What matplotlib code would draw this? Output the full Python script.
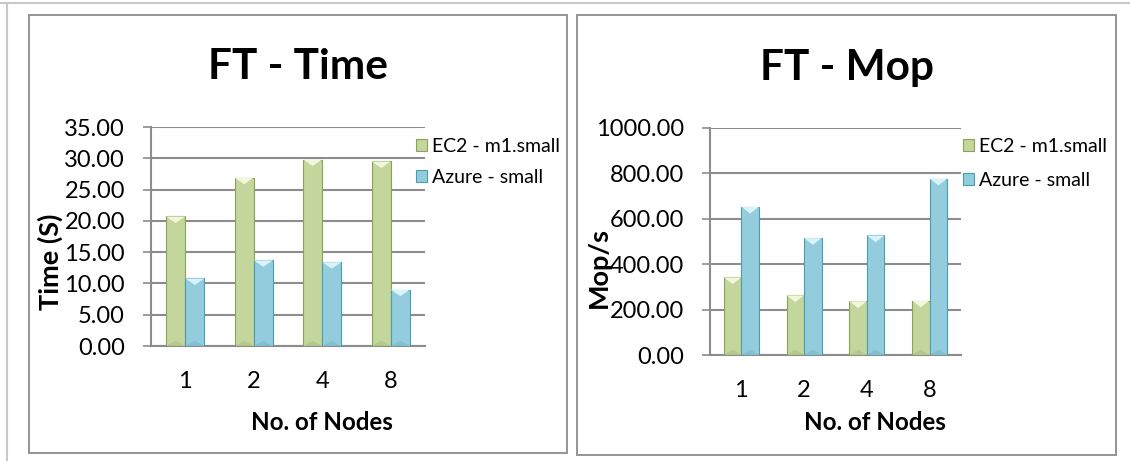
import matplotlib.pyplot as plt
from matplotlib.patches import Polygon, Rectangle, Patch
from matplotlib.lines import Line2D

plt.rcParams['font.family'] = ['Lato', 'DejaVu Sans']

nodes = ["1", "2", "4", "8"]
series = ["EC2 - m1.small", "Azure - small"]
time_ec2 = [20.7, 26.9, 29.8, 29.5]
time_azure = [10.8, 13.7, 13.4, 9.0]
mop_ec2 = [342, 263, 237, 240]
mop_azure = [653, 515, 527, 777]

FILL = ["#c3d69b", "#93cddd"]
TOP = ["#f1f7dc", "#daf2f9"]
EDGE = ["#8aa355", "#4b9bb1"]
GRID = "#8c8c8c"
W = 0.28


def draw_panel(ax, vals, ymax, step, fmt):
    x = range(len(nodes))
    h = ymax * 0.03
    for k, v in enumerate(vals):
        off = (k - 0.5) * W
        bars = ax.bar([i + off for i in x], v, W, color=FILL[k],
                      edgecolor=EDGE[k], lw=0.8, zorder=3)
        for b in bars:
            x0, x1, top = b.get_x(), b.get_x() + b.get_width(), b.get_height()
            ax.add_patch(Polygon([(x0, top), (x1, top), ((x0 + x1) / 2, top - h)],
                                 closed=True, fc=TOP[k], ec="none", zorder=4))
            ax.add_patch(Polygon([(x0, 0), (x1, 0), ((x0 + x1) / 2, h * 0.8)],
                                 closed=True, fc=EDGE[k], ec="none", alpha=0.25,
                                 zorder=4))
    ax.set_xlim(-0.5, len(nodes) - 0.5)
    ax.set_ylim(0, ymax)
    ticks = [i * step for i in range(int(round(ymax / step)) + 1)]
    ax.set_yticks(ticks)
    ax.set_yticklabels([fmt.format(t) for t in ticks], fontsize=17)
    ax.set_xticks(list(x))
    ax.set_xticklabels(nodes, fontsize=17)
    ax.yaxis.grid(True, color=GRID, lw=1.5, zorder=0)
    ax.set_axisbelow(True)
    ax.tick_params(axis="y", length=5.8, width=1.2, color=GRID, pad=13)
    ax.tick_params(axis="x", length=0, pad=18)
    for s in ("top", "right"):
        ax.spines[s].set_visible(False)
    for s in ("left", "bottom"):
        ax.spines[s].set_color(GRID)
        ax.spines[s].set_linewidth(1.5)
    ax.set_facecolor("none")


fig = plt.figure(figsize=(11.30, 4.61), dpi=100)
fig.patch.set_facecolor("white")

# page edge and panel frames
fig.add_artist(Line2D([0, 1], [1 - 3 / 461] * 2, color="#c8c8c8", lw=1.5))
fig.add_artist(Line2D([7 / 1130] * 2, [0, 1 - 3 / 461], color="#c8c8c8", lw=1.5))
fig.add_artist(Rectangle((29 / 1130, 8 / 461), 538 / 1130, 438 / 461,
                         fill=False, ec=GRID, lw=1.3))
fig.add_artist(Rectangle((577 / 1130, 6 / 461), 539 / 1130, 440 / 461,
                         fill=False, ec=GRID, lw=1.3))

ax1 = fig.add_axes([151 / 1130, 115 / 461, 274 / 1130, 219 / 461])
draw_panel(ax1, [time_ec2, time_azure], 35, 5, "{:.2f}")
ax2 = fig.add_axes([710 / 1130, 106 / 461, 251 / 1130, 227 / 461])
draw_panel(ax2, [mop_ec2, mop_azure], 1000, 200, "{:.2f}")

fig.text(298 / 1130, 1 - 67 / 461, "FT - Time", fontsize=30.5, fontweight="bold",
         ha="center", va="center")
fig.text(847 / 1130, 1 - 68 / 461, "FT - Mop", fontsize=30.5, fontweight="bold",
         ha="center", va="center")
fig.text(50 / 1130, 1 - 262 / 461, "Time (S)", fontsize=19.5, fontweight="bold",
         rotation=90, ha="center", va="center")
fig.text(599 / 1130, 1 - 267 / 461, "Mop/s", fontsize=19.5, fontweight="bold",
         rotation=90, ha="center", va="center")
fig.text(322 / 1130, 1 - 422 / 461, "No. of Nodes", fontsize=17.4, fontweight="bold",
         ha="center", va="center")
fig.text(875 / 1130, 1 - 422 / 461, "No. of Nodes", fontsize=17.4, fontweight="bold",
         ha="center", va="center")

handles = [Patch(fc=FILL[k], ec=EDGE[k], lw=0.8) for k in range(2)]
for x0, y0, sp in ((416, 138, 0.72), (963, 138, 0.85)):
    fig.legend(handles, series, loc="upper left",
               bbox_to_anchor=(x0 / 1130, 1 - y0 / 461), frameon=False,
               fontsize=14, handlelength=0.55, handleheight=0.55,
               handletextpad=0.25, labelspacing=sp, borderpad=0, borderaxespad=0)

fig.savefig("out.png", dpi=100, facecolor="white")
